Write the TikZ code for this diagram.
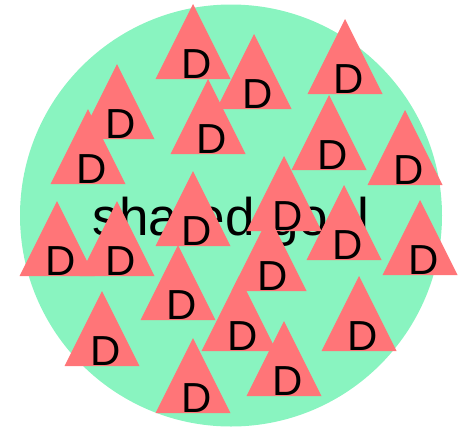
\documentclass[tikz,border=0pt]{standalone}
\usepackage{fontspec}
\setmainfont{Liberation Sans}
\usepackage{xcolor}
\definecolor{meta}{RGB}{137,244,192}
\definecolor{agente}{RGB}{255,117,120}
\tikzset{
  goal/.style={circle, fill=meta, minimum size=422pt, inner sep=0pt},
  goaltxt/.style={font=\fontsize{53}{53}\selectfont, anchor=base, inner sep=0pt},
  dtri/.style={fill=agente},
  dlabel/.style={font=\fontsize{42}{42}\selectfont, anchor=base, inner sep=0pt}
}

\begin{document}
\begin{tikzpicture}[x=1pt, y=-1pt]
    \useasboundingbox (0,0) rectangle (466,429);
    \node[goal] (g) at (231,215.5) {};
    \node[goaltxt] (gt) at (231,235) {shared goal};
    % agents: apex of each triangle
    \foreach \ax/\ay [count=\i] in {193/4, 117/64, 88/109, 208/79, 254/34, 345/19,
        329/95, 405/110, 284/156, 344/185, 420/200, 193/171, 57/201, 117/201,
        178/245, 102/291, 193/338, 269/216, 239/276, 284/321, 359/276} {
      \fill[dtri] (\ax,\ay) -- ++(37.5,75) -- ++(-75,0) -- cycle;
      \node[dlabel] (d\i) at (\ax+4,\ay+74) {D};
    }
\end{tikzpicture}
\end{document}
